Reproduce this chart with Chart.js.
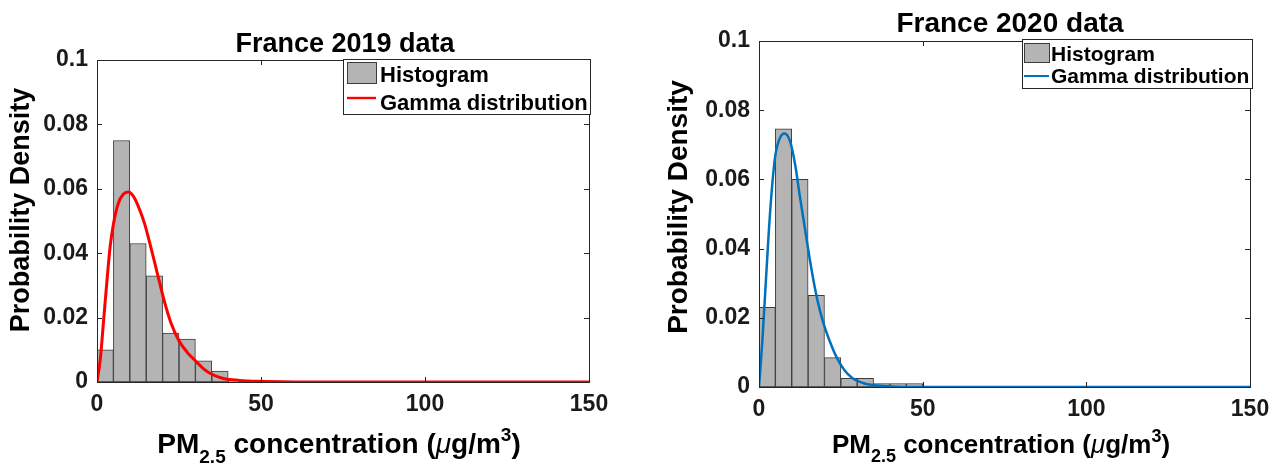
<!DOCTYPE html>
<html>
<head>
<meta charset="utf-8">
<script src="https://cdn.jsdelivr.net/npm/chart.js@4.4.0/dist/chart.umd.min.js"></script>
<style>
    html, body { margin: 0; padding: 0; background: #fff; }
    .panel { position: absolute; top: 0; }
</style>
</head>
<body>
<div class="panel" style="left:0px"><canvas id="chart2019" width="620" height="464"></canvas></div>
<div class="panel" style="left:640px"><canvas id="chart2020" width="637" height="464"></canvas></div>
<script>
// Histogram bins (centres, width 5)
const binCenters = [2.5, 7.5, 12.5, 17.5, 22.5, 27.5, 32.5, 37.5, 42.5, 47.5];
const hist2019 = [0.010, 0.075, 0.043, 0.033, 0.0152, 0.0133, 0.0066, 0.0034, 0.0004, 0.0002];
const hist2020 = [0.023, 0.0746, 0.060, 0.0265, 0.0085, 0.0025, 0.0025, 0.001, 0.001, 0.001];

// Gamma curves
const gammaX2019 = [0, 1, 2, 3, 4, 5, 6.5, 8, 9.5, 11, 12.5, 14.5, 16.5, 18.5, 20.5, 22.5, 25, 27.5, 30, 32.5, 35, 38.5, 43.5, 49, 60, 80, 100, 150];
const gamma2019 = [0, 0.007, 0.019, 0.031, 0.042, 0.049, 0.0555, 0.0583, 0.059, 0.0578, 0.0548, 0.0492, 0.0415, 0.0333, 0.0252, 0.0185, 0.0128, 0.0092, 0.0066, 0.0041, 0.0024, 0.0011, 0.0005, 0.0002, 0.00003, 0, 0, 0];
const gammaX2020 = [0, 1, 2, 3, 4, 5, 6.5, 7.8, 9.5, 11, 12.5, 14, 15.5, 17, 18.5, 20, 21.5, 23.5, 26, 28.5, 32, 36, 42, 50, 150];
const gamma2020 = [0, 0.013, 0.029, 0.045, 0.058, 0.067, 0.0722, 0.0733, 0.071, 0.0645, 0.055, 0.046, 0.037, 0.029, 0.0225, 0.0175, 0.0135, 0.009, 0.005, 0.0026, 0.0011, 0.0004, 0.0001, 0, 0];

// Axis ticks
const xTickValues = [0, 50, 100, 150];
const xTickLabels = ['0', '50', '100', '150'];
const yTickValues = [0, 0.02, 0.04, 0.06, 0.08, 0.1];
const yTickLabels = ['0', '0.02', '0.04', '0.06', '0.08', '0.1'];

const FONT = "'Liberation Sans', Arial, Helvetica, sans-serif";
const AXIS_COLOR = '#262626';
const TEXT_COLOR = '#1a1a1a';
const BAR_FILL = '#b4b4b4';
const BAR_EDGE = '#3c3c3c';

// Panel layouts (canvas coordinates)
const panel2019 = {
    title: 'France 2019 data',
    lineColor: '#ff0000',
    lineWidth: 3,
    padding: { top: 60, right: 31, left: 0, bottom: 0 },
    yWidth: 97,
    xHeight: 82,
    titlePos: { x: 345, y: 52, size: 27 },
    yTitlePos: { x: 29, y: 210, size: 27 },
    xTitlePos: { x: 339, y: 453, size: 28 },
    tickSize: 23,
    legend: { x: 343, y: 59, w: 247, h: 55, px: 347, py: 62, pw: 29, ph: 21, ly: 98, tx: 380, b1: 82, b2: 110, size: 22 }
};
const panel2020 = {
    title: 'France 2020 data',
    lineColor: '#0072bd',
    lineWidth: 2.5,
    padding: { top: 41, right: 27, left: 0, bottom: 0 },
    yWidth: 119,
    xHeight: 77,
    titlePos: { x: 370, y: 32, size: 28 },
    yTitlePos: { x: 47, y: 207, size: 28 },
    xTitlePos: { x: 361, y: 453, size: 26 },
    tickSize: 23,
    legend: { x: 382, y: 39, w: 230, h: 49, px: 384, py: 43, pw: 25, ph: 19, ly: 76, tx: 411, b1: 61, b2: 83, size: 21 }
};

function drawXTitle(ctx, p) {
    const size = p.size;
    const small = Math.round(size * 0.68);
    const parts = [
        { t: 'PM', font: `bold ${size}px ${FONT}`, dy: 0 },
        { t: '2.5', font: `bold ${small}px ${FONT}`, dy: size * 0.36 },
        { t: ' concentration (', font: `bold ${size}px ${FONT}`, dy: 0 },
        { t: 'μ', font: `italic ${size}px ${FONT}`, dy: 0 },
        { t: 'g/m', font: `bold ${size}px ${FONT}`, dy: 0 },
        { t: '3', font: `bold ${small}px ${FONT}`, dy: -size * 0.42 },
        { t: ')', font: `bold ${size}px ${FONT}`, dy: 0 }
    ];
    let total = 0;
    parts.forEach(part => {
        ctx.font = part.font;
        part.w = ctx.measureText(part.t).width;
        total += part.w;
    });
    let x = p.x - total / 2;
    ctx.fillStyle = '#000';
    ctx.textAlign = 'left';
    ctx.textBaseline = 'alphabetic';
    parts.forEach(part => {
        ctx.font = part.font;
        ctx.fillText(part.t, x, p.y + part.dy);
        x += part.w;
    });
}

function drawFrame(chart) {
    const { ctx, chartArea: a } = chart;
    const x = chart.scales.x, y = chart.scales.y;
    const tl = 5;
    ctx.save();
    ctx.strokeStyle = AXIS_COLOR;
    ctx.lineWidth = 1;
    ctx.strokeRect(a.left + 0.5, a.top + 0.5, a.right - a.left, a.bottom - a.top);
    ctx.beginPath();
    x.ticks.forEach(t => {
        const px = Math.round(x.getPixelForValue(t.value)) + 0.5;
        ctx.moveTo(px, a.bottom); ctx.lineTo(px, a.bottom - tl);
        ctx.moveTo(px, a.top); ctx.lineTo(px, a.top + tl);
    });
    y.ticks.forEach(t => {
        const py = Math.round(y.getPixelForValue(t.value)) + 0.5;
        ctx.moveTo(a.left, py); ctx.lineTo(a.left + tl, py);
        ctx.moveTo(a.right, py); ctx.lineTo(a.right - tl, py);
    });
    ctx.stroke();
    ctx.restore();
}

function drawLegend(ctx, L, lineColor, lineWidth) {
    ctx.save();
    ctx.fillStyle = '#fff';
    ctx.fillRect(L.x, L.y, L.w, L.h);
    ctx.strokeStyle = AXIS_COLOR;
    ctx.lineWidth = 1;
    ctx.strokeRect(L.x + 0.5, L.y + 0.5, L.w, L.h);

    ctx.fillStyle = BAR_FILL;
    ctx.fillRect(L.px, L.py, L.pw, L.ph);
    ctx.strokeStyle = BAR_EDGE;
    ctx.strokeRect(L.px + 0.5, L.py + 0.5, L.pw, L.ph);

    ctx.strokeStyle = lineColor;
    ctx.lineWidth = lineWidth * 0.8;
    ctx.beginPath();
    ctx.moveTo(L.px, L.ly);
    ctx.lineTo(L.px + L.pw, L.ly);
    ctx.stroke();

    ctx.fillStyle = '#000';
    ctx.font = `bold ${L.size}px ${FONT}`;
    ctx.textAlign = 'left';
    ctx.textBaseline = 'alphabetic';
    ctx.fillText('Histogram', L.tx, L.b1);
    ctx.fillText('Gamma distribution', L.tx, L.b2);
    ctx.restore();
}

const figureText = {
    id: 'figureText',
    afterDraw(chart) {
        const p = chart.options.plugins.figureText.panel;
        const ctx = chart.ctx;
        drawFrame(chart);
        drawLegend(ctx, p.legend, p.lineColor, p.lineWidth);

        ctx.save();
        ctx.fillStyle = '#000';
        ctx.textAlign = 'center';
        ctx.textBaseline = 'alphabetic';
        ctx.font = `bold ${p.titlePos.size}px ${FONT}`;
        ctx.fillText(p.title, p.titlePos.x, p.titlePos.y);

        ctx.translate(p.yTitlePos.x, p.yTitlePos.y);
        ctx.rotate(-Math.PI / 2);
        ctx.font = `bold ${p.yTitlePos.size}px ${FONT}`;
        ctx.fillText('Probability Density', 0, 0);
        ctx.restore();

        ctx.save();
        drawXTitle(ctx, p.xTitlePos);
        ctx.restore();
    }
};

function makeChart(canvasId, panel, hist, curveX, curveY) {
    const tickFont = { family: FONT, size: panel.tickSize, weight: 'bold' };
    return new Chart(document.getElementById(canvasId), {
        type: 'bar',
        data: {
            datasets: [{
                type: 'line',
                label: 'Gamma distribution',
                data: curveX.map((v, i) => ({ x: v, y: curveY[i] })),
                borderColor: panel.lineColor,
                borderWidth: panel.lineWidth,
                pointRadius: 0,
                cubicInterpolationMode: 'monotone',
                fill: false,
                order: 0
            }, {
                type: 'bar',
                label: 'Histogram',
                data: binCenters.map((c, i) => ({ x: c, y: hist[i] })),
                backgroundColor: BAR_FILL,
                borderColor: BAR_EDGE,
                borderWidth: 1,
                borderSkipped: false,
                barPercentage: 1,
                categoryPercentage: 1,
                order: 1
            }]
        },
        options: {
            responsive: false,
            animation: false,
            events: [],
            layout: { padding: panel.padding },
            plugins: {
                legend: { display: false },
                tooltip: { enabled: false },
                title: { display: false },
                figureText: { panel: panel }
            },
            scales: {
                x: {
                    type: 'linear',
                    min: 0,
                    max: 150,
                    offset: false,
                    grid: { display: false, drawTicks: false, offset: false },
                    border: { display: false },
                    afterBuildTicks: s => { s.ticks = xTickValues.map(v => ({ value: v })); },
                    ticks: {
                        padding: 9,
                        autoSkip: false,
                        maxRotation: 0,
                        color: TEXT_COLOR,
                        font: tickFont,
                        callback: (v, i) => xTickLabels[i]
                    },
                    afterFit: s => { s.height = panel.xHeight; s.paddingLeft = 0; s.paddingRight = 0; }
                },
                y: {
                    min: 0,
                    max: 0.1,
                    grid: { display: false, drawTicks: false },
                    border: { display: false },
                    afterBuildTicks: s => { s.ticks = yTickValues.map(v => ({ value: v })); },
                    ticks: {
                        padding: 9,
                        autoSkip: false,
                        color: TEXT_COLOR,
                        font: tickFont,
                        callback: (v, i) => yTickLabels[i]
                    },
                    afterFit: s => { s.width = panel.yWidth; s.paddingTop = 0; s.paddingBottom = 0; }
                }
            }
        },
        plugins: [figureText]
    });
}

makeChart('chart2019', panel2019, hist2019, gammaX2019, gamma2019);
makeChart('chart2020', panel2020, hist2020, gammaX2020, gamma2020);
</script>
</body>
</html>
